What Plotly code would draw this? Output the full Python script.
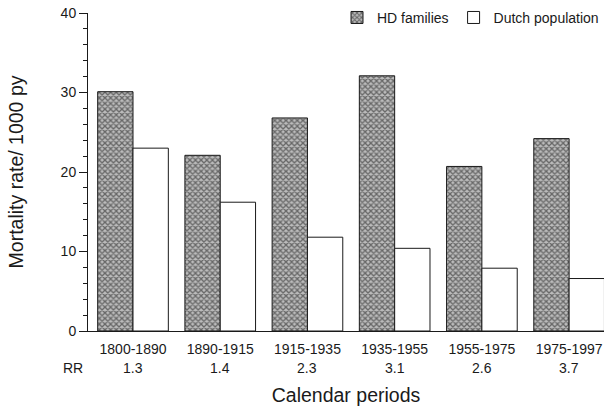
import plotly.graph_objects as go

periods = ["1800-1890", "1890-1915", "1915-1935", "1935-1955", "1955-1975", "1975-1997"]
hd_families = [30.1, 22.1, 26.8, 32.1, 20.7, 24.2]
dutch_population = [23.0, 16.2, 11.8, 10.4, 7.9, 6.6]
rr_values = ["1.3", "1.4", "2.3", "3.1", "2.6", "3.7"]

FONT = "Liberation Sans, Arial, sans-serif"
INK = "#1a1a1a"
TICK_SIZE = 14
TITLE_SIZE = 19.5

fig = go.Figure()
fig.add_trace(go.Bar(
    x=periods, y=hd_families, name="HD families",
    marker=dict(
        color="white",
        line=dict(color=INK, width=1),
        pattern=dict(shape="x", size=4, solidity=0.55, fgcolor="#111111", bgcolor="#bcbcbc"),
    ),
))
fig.add_trace(go.Bar(
    x=periods, y=dutch_population, name="Dutch population",
    marker=dict(color="white", line=dict(color=INK, width=1)),
))

# relative-risk row beneath the period labels
RR_Y = -0.115
annotations = [
    dict(x=p, y=RR_Y, xref="x", yref="paper", text=rr, showarrow=False,
         font=dict(size=TICK_SIZE, color=INK, family=FONT), yanchor="middle")
    for p, rr in zip(periods, rr_values)
]
annotations.append(dict(x=-0.005, y=RR_Y, xref="paper", yref="paper", text="RR",
                        showarrow=False, xanchor="right", yanchor="middle",
                        font=dict(size=TICK_SIZE, color=INK, family=FONT)))

fig.update_layout(
    width=604, height=406,
    margin=dict(l=88, r=0, t=13, b=75),
    paper_bgcolor="white", plot_bgcolor="white",
    barmode="group", bargap=0.19, bargroupgap=0,
    font=dict(family=FONT, color=INK, size=TICK_SIZE),
    showlegend=True,
    legend=dict(orientation="h", x=1.0, xanchor="right", y=1.035, yanchor="top",
                font=dict(size=TICK_SIZE, family=FONT, color=INK), bgcolor="rgba(0,0,0,0)",
                itemwidth=30),
    annotations=annotations,
    xaxis=dict(
        type="category", range=[-0.516, 5.40],
        showline=True, linecolor=INK, linewidth=1,
        ticks="", showgrid=False, zeroline=False,
        ticklabelstandoff=5,
        tickfont=dict(size=TICK_SIZE, family=FONT, color=INK),
        title=dict(text="Calendar periods", font=dict(size=TITLE_SIZE, family=FONT, color=INK), standoff=34),
    ),
    yaxis=dict(
        range=[0, 40], tickvals=[0, 10, 20, 30, 40],
        showline=True, linecolor=INK, linewidth=1,
        ticks="outside", ticklen=8, tickcolor=INK,
        minor=dict(dtick=2, ticks="outside", ticklen=4, tickcolor=INK, showgrid=False),
        showgrid=False, zeroline=False,
        tickfont=dict(size=TICK_SIZE, family=FONT, color=INK),
        title=dict(text="Mortality rate/ 1000 py", font=dict(size=TITLE_SIZE, family=FONT, color=INK), standoff=31),
    ),
)

fig.write_html("out.html")
